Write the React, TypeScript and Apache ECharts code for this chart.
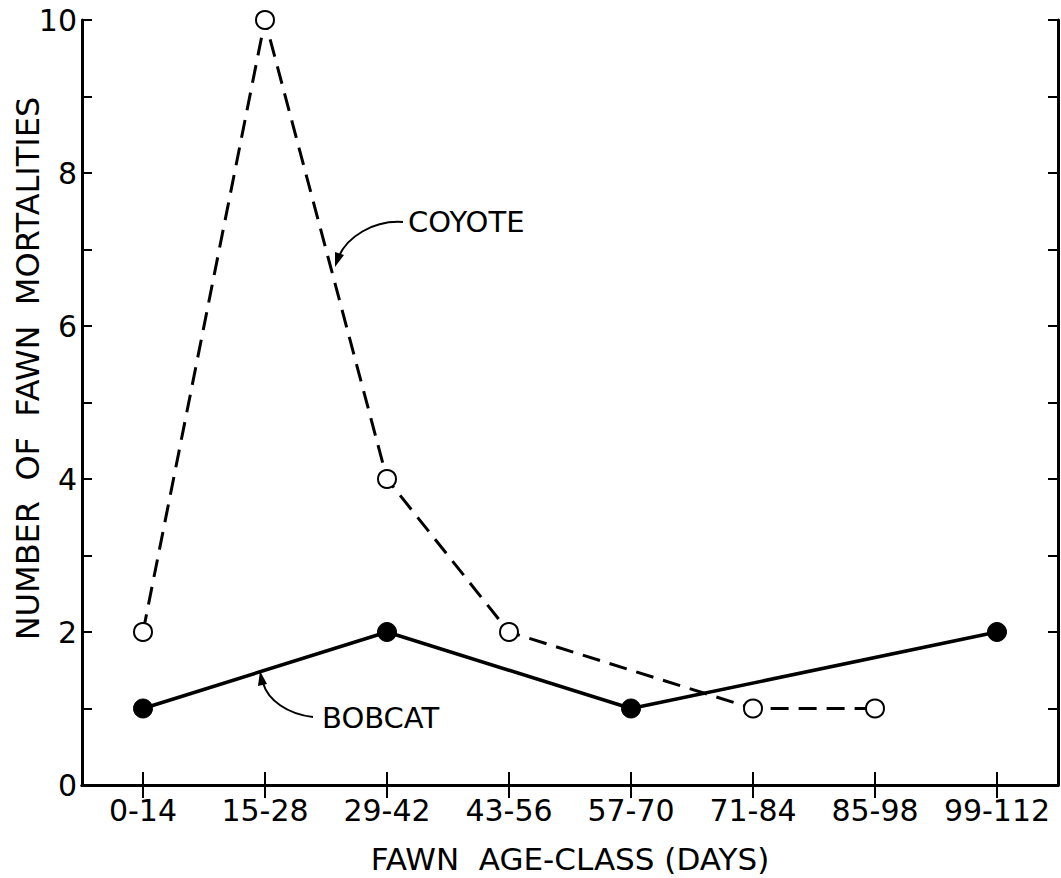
import React, { useEffect, useRef } from "react";
import * as echarts from "echarts";

const categories = ["0-14", "15-28", "29-42", "43-56", "57-70", "71-84", "85-98", "99-112"];
const coyote = [2, 10, 4, 2, null, 1, 1, null];
const bobcat = [1, null, 2, null, 1, null, null, 2];
const yTicks = [0, 2, 4, 6, 8, 10];

const FONT = "DejaVu Sans";

export default function App() {
  const ref = useRef<HTMLDivElement>(null);
  useEffect(() => {
    if (!ref.current) return;
    const chart = echarts.init(ref.current, null, { renderer: "svg" });
    const axisLine = { show: true, lineStyle: { color: "#000", width: 3 } };
    const option: any = {
      animation: false,
      backgroundColor: "#fff",
      grid: { left: 82, right: 3, top: 20, bottom: 93, containLabel: false, outerBoundsMode: "none" },
      xAxis: [
        {
          type: "category",
          data: categories,
          position: "bottom",
          boundaryGap: true,
          axisLine,
          axisTick: { show: true, inside: true, alignWithLabel: true, interval: 0, length: 13, lineStyle: { color: "#000", width: 2 } },
          axisLabel: { color: "#000", fontFamily: FONT, fontSize: 30, margin: 10, interval: 0 },
          name: "FAWN  AGE-CLASS (DAYS)",
          nameLocation: "middle",
          nameGap: 58,
          nameMoveOverlap: false,
          nameTextStyle: { color: "#000", fontFamily: FONT, fontSize: 31, verticalAlign: "top" },
          splitLine: { show: false },
        },
        {
          type: "category",
          data: categories,
          position: "top",
          boundaryGap: true,
          axisLine,
          axisTick: { show: true, inside: true, alignWithLabel: true, interval: 0, length: 13, lineStyle: { color: "#000", width: 2 } },
          axisLabel: { show: false },
          splitLine: { show: false },
        },
      ],
      yAxis: [
        {
          type: "value",
          min: 0,
          max: 10,
          interval: 1,
          position: "left",
          axisLine,
          axisTick: { show: true, inside: true, length: 10, lineStyle: { color: "#000", width: 2 } },
          axisLabel: {
            color: "#000",
            fontFamily: FONT,
            fontSize: 30,
            margin: 5,
            formatter: (v: number) => (yTicks.includes(v) ? String(v) : ""),
          },
          splitLine: { show: false },
          name: "NUMBER  OF  FAWN  MORTALITIES",
          nameLocation: "middle",
          nameGap: 38,
          nameMoveOverlap: false,
          nameRotate: 90,
          nameTextStyle: { color: "#000", fontFamily: FONT, fontSize: 32, padding: [0, 0, 0, 68] },
        },
        {
          type: "value",
          min: 0,
          max: 10,
          interval: 1,
          position: "right",
          axisLine,
          axisTick: { show: true, inside: true, length: 10, lineStyle: { color: "#000", width: 2 } },
          axisLabel: { show: false },
          splitLine: { show: false },
        },
      ],
      series: [
        {
          name: "BOBCAT",
          type: "line",
          data: bobcat,
          connectNulls: true,
          symbol: "circle",
          symbolSize: 19,
          lineStyle: { color: "#000", width: 3.5, type: "solid" },
          itemStyle: { color: "#000", borderColor: "#000", borderWidth: 1 },
          z: 3,
        },
        {
          name: "COYOTE",
          type: "line",
          data: coyote,
          connectNulls: true,
          symbol: "circle",
          symbolSize: 18,
          showAllSymbol: true,
          lineStyle: { color: "#000", width: 3, type: [18, 10] },
          itemStyle: { color: "#fff", borderColor: "#000", borderWidth: 2 },
          z: 4,
        },
      ],
      graphic: [
        {
          type: "text",
          left: 408,
          top: 207,
          style: { text: "COYOTE", fill: "#000", font: `29px "${FONT}"` },
        },
        {
          type: "bezierCurve",
          shape: { x1: 403, y1: 222, cpx1: 372, cpy1: 220, cpx2: 347, cpy2: 238, x2: 339, y2: 256 },
          style: { stroke: "#000", lineWidth: 2, fill: "none" },
        },
        {
          type: "polygon",
          shape: { points: [[335, 267], [344, 255], [335, 252]] },
          style: { fill: "#000" },
        },
        {
          type: "text",
          left: 322,
          top: 703,
          style: { text: "BOBCAT", fill: "#000", font: `29px "${FONT}"` },
        },
        {
          type: "bezierCurve",
          shape: { x1: 313, y1: 717, cpx1: 287, cpy1: 714, cpx2: 268, cpy2: 700, x2: 263, y2: 683 },
          style: { stroke: "#000", lineWidth: 2, fill: "none" },
        },
        {
          type: "polygon",
          shape: { points: [[260, 671], [258, 686], [267, 684]] },
          style: { fill: "#000" },
        },
      ],
    };
    chart.setOption(option);
    return () => chart.dispose();
  }, []);
  return <div ref={ref} style={{ width: 1061, height: 878, position: "absolute", left: 0, top: 0 }} />;
}
